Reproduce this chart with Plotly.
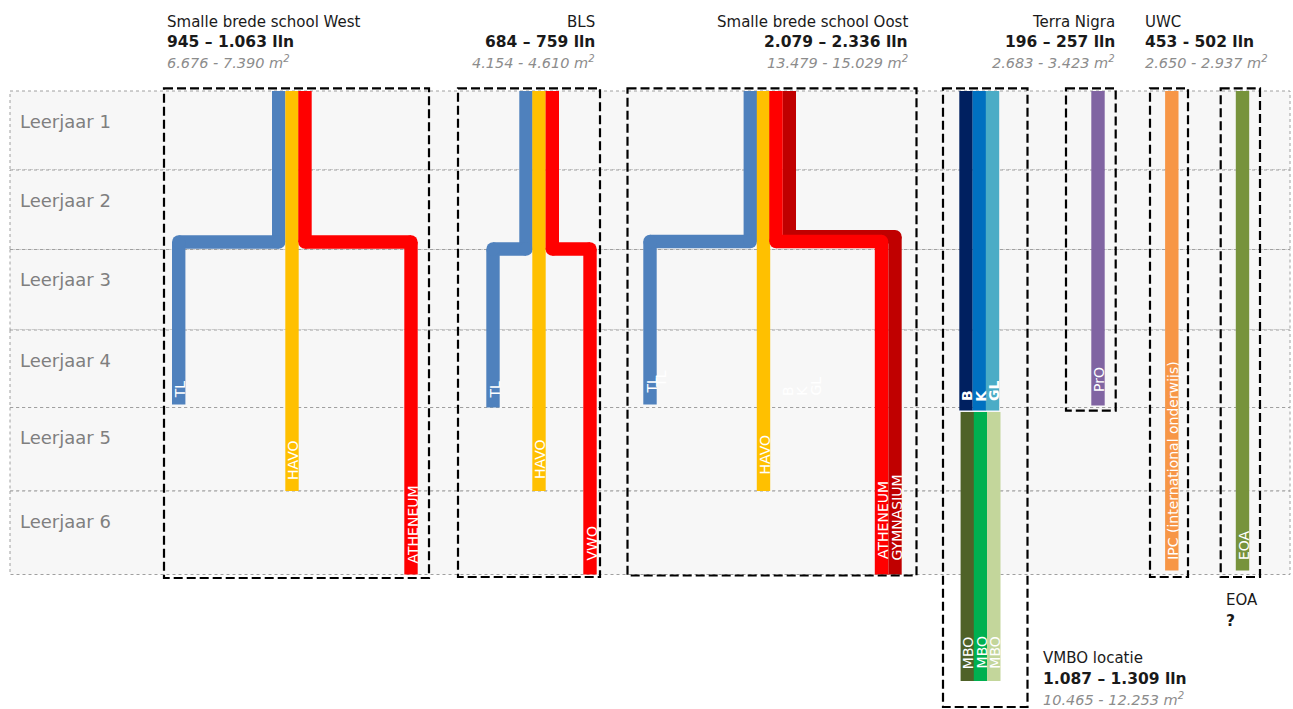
import plotly.graph_objects as go

# ---------------- data ----------------
LEERJAREN = ["Leerjaar 1", "Leerjaar 2", "Leerjaar 3", "Leerjaar 4", "Leerjaar 5", "Leerjaar 6"]

SCHOOL_NAMES = ["Smalle brede school West", "BLS", "Smalle brede school Oost",
                "Terra Nigra", "UWC", "VMBO locatie", "EOA"]
SCHOOL_LLN = ["945 – 1.063 lln", "684 – 759 lln", "2.079 – 2.336 lln",
              "196 – 257 lln", "453 - 502 lln", "1.087 – 1.309 lln", "?"]
SCHOOL_M2 = ["6.676 - 7.390 m<sup>2</sup>", "4.154 - 4.610 m<sup>2</sup>",
             "13.479 - 15.029 m<sup>2</sup>", "2.683 - 3.423 m<sup>2</sup>",
             "2.650 - 2.937 m<sup>2</sup>", "10.465 - 12.253 m<sup>2</sup>", ""]

# tracks: label, first leerjaar, last leerjaar (MBO continues past leerjaar 6),
# leerjaar after which the track branches sideways (0 = straight)
TRACK_LABELS = ["TL", "HAVO", "ATHENEUM",
                "TL", "HAVO", "VWO",
                "TL", "HAVO", "GYMNASIUM", "ATHENEUM",
                "B", "K", "GL",
                "MBO", "MBO", "MBO",
                "PrO", "IPC (international onderwijs)", "EOA"]
TRACK_FROM = [1, 1, 1, 1, 1, 1, 1, 1, 1, 1, 1, 1, 1, 5, 5, 5, 1, 1, 1]
TRACK_TO = [4, 5, 6, 4, 5, 6, 4, 5, 6, 6, 4, 4, 4, 7.32, 7.32, 7.32, 4, 6, 6]
TRACK_BRANCH = [2, 0, 2, 2, 0, 2, 2, 0, 2, 2, 0, 0, 0, 0, 0, 0, 0, 0, 0]

# faint (white) secondary labels in the Oost box
GHOST_LABELS = ["TL", "B", "K", "GL"]

# ---------------- layout / style ----------------
W, H = 1293, 709
ROW_EDGES_PX = [91, 170, 249.5, 330, 407.5, 491, 574.5]
ROW_X0, ROW_X1 = 10, 1290
LW = 13.4

TRACK_COLORS = ["#4F81BD", "#FFC000", "#FF0000",
                "#4F81BD", "#FFC000", "#FF0000",
                "#4F81BD", "#FFC000", "#C00000", "#FF0000",
                "#002060", "#0070C0", "#4BACC6",
                "#4F6228", "#00B050", "#C3D69B",
                "#8064A2", "#F79646", "#77933C"]
TRACK_XTOP = [278.7, 292.0, 305.0,
              526.0, 539.0, 552.3,
              750.3, 763.5, 789.3, 776.0,
              966.0, 979.3, 992.5,
              967.3, 980.5, 993.8,
              1098.0, 1171.8, 1242.5]
TRACK_XBOT = [178.7, 292.0, 411.0,
              493.0, 539.0, 590.0,
              650.0, 763.5, 895.0, 881.5,
              966.0, 979.3, 992.5,
              967.3, 980.5, 993.8,
              1098.0, 1171.8, 1242.5]
BRANCH_DY = [-7.5, 0, -7.5, -0.5, 0, -0.5, -8, 0, -12.8, -8,
             0, 0, 0, 0, 0, 0, 0, 0, 0]
TOP_INSET = [0] * 13 + [4.5, 4.5, 4.5] + [0, 0, 0]
END_INSET = [3, 0, 0, 0, 0, 0, 3, 0, 0, 0, -3, -3, -3, 0, 0, 0, 2, 4, 4]
LABEL_GAP = [6, 11, 11, 9, 12, 14, 11, 16, 14, 15, 9, 9, 9, 12, 12, 12, 13, 11, 10]
LABEL_BOLD = [False] * 10 + [True, True, True] + [False] * 6

GHOST_X = [660.7, 788.0, 801.7, 815.0]
GHOST_YBOT = [389, 397, 397, 397]

# dashed boxes [x0, x1, y0, y1]
BOXES = [(164, 429, 88.3, 578), (458, 600, 88.3, 577), (627.5, 916.5, 88.3, 575.5),
         (943, 1027.5, 88.3, 707), (1066, 1115.7, 88.3, 410.7),
         (1150, 1188, 88.3, 577), (1220.7, 1260, 88.3, 577)]

# header positions: x, anchor, y of the three lines
HEAD_X = [165, 597, 910, 1117, 1143, 1041, 1224]
HEAD_ANCHOR = ["left", "right", "right", "right", "left", "left", "left"]
HEAD_Y = [(21.7, 42.3, 62.3)] * 5 + [(658, 679, 699), (600, 621, 641)]

FONT = "DejaVu Sans"


def ypx(b):
    if b <= 6:
        i = int(b)
        if i >= 6:
            return ROW_EDGES_PX[6]
        f = b - i
        return ROW_EDGES_PX[i] + f * (ROW_EDGES_PX[i + 1] - ROW_EDGES_PX[i])
    return ROW_EDGES_PX[6] + (b - 6) * 80.6


fig = go.Figure()
shapes = []
annotations = []

# rows
for i, name in enumerate(LEERJAREN):
    y0, y1 = ROW_EDGES_PX[i], ROW_EDGES_PX[i + 1]
    shapes.append(dict(type="rect", xref="x", yref="y", x0=ROW_X0, x1=ROW_X1, y0=y0, y1=y1,
                       fillcolor="#F7F7F7", line=dict(color="#A0A0A0", width=1, dash="dot"),
                       layer="below"))
    annotations.append(dict(x=18, y=y0 + 30, xref="x", yref="y", text=name, showarrow=False,
                            xanchor="left", yanchor="middle",
                            font=dict(family=FONT, size=18, color="#7F7F7F")))

# dashed boxes
for (x0, x1, y0, y1) in BOXES:
    shapes.append(dict(type="rect", xref="x", yref="y", x0=x0, x1=x1, y0=y0, y1=y1,
                       fillcolor="rgba(0,0,0,0)",
                       line=dict(color="#000000", width=2.2, dash="9px,4px"), layer="above"))

# tracks
for i, lab in enumerate(TRACK_LABELS):
    col = TRACK_COLORS[i]
    top = ypx(TRACK_FROM[i] - 1) + TOP_INSET[i]
    bot = ypx(TRACK_TO[i]) - END_INSET[i]
    xt, xb = TRACK_XTOP[i], TRACK_XBOT[i]
    if TRACK_BRANCH[i]:
        yb = ypx(TRACK_BRANCH[i]) + BRANCH_DY[i]
        xs = [xt, xt, None, xt, xb, None, xb, xb]
        ys = [top, yb, None, yb, yb, None, yb, bot]
        fig.add_trace(go.Scatter(x=xs, y=ys, mode="lines", line=dict(color=col, width=LW),
                                 hoverinfo="skip", showlegend=False))
        fig.add_trace(go.Scatter(x=[xt, xb], y=[yb, yb], mode="markers",
                                 marker=dict(color=col, size=LW, line=dict(width=0)),
                                 hoverinfo="skip", showlegend=False))
    else:
        fig.add_trace(go.Scatter(x=[xt, xt], y=[top, bot], mode="lines",
                                 line=dict(color=col, width=LW),
                                 hoverinfo="skip", showlegend=False))
    txt = "<b>" + lab + "</b>" if LABEL_BOLD[i] else lab
    annotations.append(dict(x=xb, y=bot - LABEL_GAP[i] + 1, xref="x", yref="y", text=txt,
                            showarrow=False, textangle=-90, xanchor="center", yanchor="bottom",
                            xshift=1, borderpad=0,
                            font=dict(family=FONT, size=14, color="#FFFFFF")))

for lab, gx, gy in zip(GHOST_LABELS, GHOST_X, GHOST_YBOT):
    annotations.append(dict(x=gx, y=gy, xref="x", yref="y", text=lab, showarrow=False,
                            textangle=-90, xanchor="center", yanchor="bottom", borderpad=0,
                            font=dict(family=FONT, size=14, color="#FFFFFF")))

# headers
for i, name in enumerate(SCHOOL_NAMES):
    y_a, y_b, y_c = HEAD_Y[i]
    annotations.append(dict(x=HEAD_X[i], y=y_a, xref="x", yref="y", text=name, showarrow=False,
                            xanchor=HEAD_ANCHOR[i], yanchor="middle",
                            font=dict(family=FONT, size=15, color="#1A1A1A")))
    annotations.append(dict(x=HEAD_X[i], y=y_b, xref="x", yref="y", text="<b>" + SCHOOL_LLN[i] + "</b>",
                            showarrow=False, xanchor=HEAD_ANCHOR[i], yanchor="middle",
                            font=dict(family=FONT, size=15.5, color="#1A1A1A")))
    if SCHOOL_M2[i]:
        annotations.append(dict(x=HEAD_X[i], y=y_c, xref="x", yref="y",
                                text="<i>" + SCHOOL_M2[i] + "</i>", showarrow=False,
                                xanchor=HEAD_ANCHOR[i], yanchor="middle",
                                font=dict(family=FONT, size=14.5, color="#8C8C8C")))

fig.update_layout(
    width=W, height=H, autosize=False,
    margin=dict(l=0, r=0, t=0, b=0, pad=0),
    paper_bgcolor="#FFFFFF", plot_bgcolor="#FFFFFF",
    xaxis=dict(range=[0, W], visible=False, fixedrange=True),
    yaxis=dict(range=[H, 0], visible=False, fixedrange=True),
    shapes=shapes, annotations=annotations, showlegend=False,
)

fig.write_html("out.html", config={"displayModeBar": False},
               post_script="document.body.style.margin='0';document.body.style.overflow='hidden';")
